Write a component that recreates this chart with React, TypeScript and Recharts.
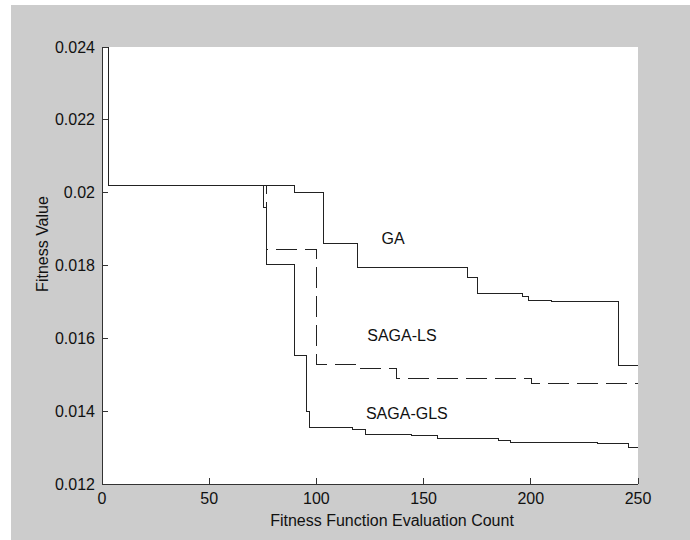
import { LineChart, Line, XAxis, YAxis, CartesianGrid, ReferenceDot, Label } from 'recharts';

// axis ticks
const X_TICKS = [0, 50, 100, 150, 200, 250];
const Y_TICKS = [0.012, 0.014, 0.016, 0.018, 0.02, 0.022, 0.024];

// GA (solid)
const GA_X = [0, 3, 90, 103.5, 119, 170.5, 175, 196, 199, 209.5, 241, 250];
const GA_Y = [0.024, 0.0202, 0.02, 0.01861, 0.01795, 0.01768, 0.01724, 0.01714, 0.01705, 0.01702, 0.01526, 0.01526];

// SAGA-LS (dashed)
const LS_X = [3, 76.5, 100, 119.5, 137.4, 200.5, 250];
const LS_Y = [0.0202, 0.01844, 0.01527, 0.01516, 0.0149, 0.01475, 0.01475];

// SAGA-GLS (solid)
const GLS_X = [3, 75.5, 76.5, 89.7, 95.5, 96.7, 117, 123, 144.4, 156.6, 184.8, 190.3, 231, 245.5, 250];
const GLS_Y = [0.0202, 0.0196, 0.01804, 0.01552, 0.014, 0.01356, 0.0135, 0.01337, 0.01333, 0.01326, 0.01319, 0.01315, 0.01312, 0.01301, 0.01301];

const toPoints = (xs: number[], ys: number[]) => xs.map((x, i) => ({ x, y: ys[i] }));

const gaData = toPoints(GA_X, GA_Y);
const lsData = toPoints(LS_X, LS_Y);
const glsData = toPoints(GLS_X, GLS_Y);

const FONT = '"Liberation Sans", Arial, sans-serif';
const INK = '#333';
const TXT = '#111';

function BottomTick({ x, y, payload }: any) {
  return (
    <g>
      <line x1={x} y1={y} x2={x} y2={y - 6} stroke={INK} shapeRendering="crispEdges" />
      <text x={x} y={y + 20} textAnchor="middle" fontSize={16} fontFamily={FONT} fill={TXT}>
        {payload.value}
      </text>
    </g>
  );
}

function TopTick({ x, y }: any) {
  return <line x1={x} y1={y} x2={x} y2={y + 6} stroke={INK} shapeRendering="crispEdges" />;
}

function LeftTick({ x, y, payload }: any) {
  return (
    <g>
      <line x1={x} y1={y} x2={x + 6} y2={y} stroke={INK} shapeRendering="crispEdges" />
      <text x={x - 7} y={y + 5.5} textAnchor="end" fontSize={16} fontFamily={FONT} fill={TXT}>
        {String(payload.value)}
      </text>
    </g>
  );
}

function RightTick({ x, y }: any) {
  return <line x1={x} y1={y} x2={x - 6} y2={y} stroke={INK} shapeRendering="crispEdges" />;
}

const note = (value: string) => ({
  value,
  position: 'right' as const,
  offset: 0,
  fontSize: 16,
  fontFamily: FONT,
  fill: TXT,
});

const axisLine = { stroke: INK, shapeRendering: 'crispEdges' };

export default function App() {
  return (
    <div style={{ position: 'absolute', left: 0, top: 0, width: 690, height: 540, background: '#fff' }}>
      <div style={{ position: 'absolute', left: 11, top: 5, right: 0, bottom: 0, background: '#cccccc' }} />
      <div style={{ position: 'absolute', left: 0, top: 0 }}>
        <LineChart width={690} height={540} margin={{ top: 47, right: 52, bottom: 0, left: 0 }}>
          <CartesianGrid fill="#fff" horizontal={false} vertical={false} stroke="none" />
          <XAxis
            dataKey="x"
            type="number"
            domain={[0, 250]}
            ticks={X_TICKS}
            allowDataOverflow
            height={56}
            tickSize={0}
            tickMargin={0}
            tickLine={false}
            tick={<BottomTick />}
            axisLine={axisLine}
          >
            <Label
              content={() => (
                <text x={392} y={526} textAnchor="middle" fontSize={16} fontFamily={FONT} fill={TXT}>
                  Fitness Function Evaluation Count
                </text>
              )}
            />
          </XAxis>
          <XAxis
            xAxisId="top"
            orientation="top"
            dataKey="x"
            type="number"
            domain={[0, 250]}
            ticks={X_TICKS}
            allowDataOverflow
            height={0}
            tickSize={0}
            tickMargin={0}
            tickLine={false}
            tick={<TopTick />}
            axisLine={axisLine}
          />
          <YAxis
            type="number"
            domain={[0.012, 0.024]}
            ticks={Y_TICKS}
            allowDataOverflow
            width={102}
            tickSize={0}
            tickMargin={0}
            tickLine={false}
            tick={<LeftTick />}
            axisLine={axisLine}
          >
            <Label
              content={() => (
                <text
                  x={48}
                  y={244}
                  transform="rotate(-90 48 244)"
                  textAnchor="middle"
                  fontSize={16}
                  fontFamily={FONT}
                  fill={TXT}
                >
                  Fitness Value
                </text>
              )}
            />
          </YAxis>
          <YAxis
            yAxisId="right"
            orientation="right"
            type="number"
            domain={[0.012, 0.024]}
            ticks={Y_TICKS}
            allowDataOverflow
            width={0}
            tickSize={0}
            tickMargin={0}
            tickLine={false}
            tick={<RightTick />}
            axisLine={axisLine}
          />
          <Line data={gaData} dataKey="y" type="stepAfter" stroke="#222" strokeWidth={1} shapeRendering="crispEdges" dot={false} isAnimationActive={false} />
          <Line data={lsData} dataKey="y" type="stepAfter" stroke="#222" strokeWidth={1} strokeDasharray="21 8" shapeRendering="crispEdges" dot={false} isAnimationActive={false} />
          <Line data={glsData} dataKey="y" type="stepAfter" stroke="#222" strokeWidth={1} shapeRendering="crispEdges" dot={false} isAnimationActive={false} />
          <ReferenceDot x={130.4} y={0.01876} r={0} fill="none" stroke="none" label={note('GA')} />
          <ReferenceDot x={123.7} y={0.01607} r={0} fill="none" stroke="none" label={note('SAGA-LS')} />
          <ReferenceDot x={123.1} y={0.01394} r={0} fill="none" stroke="none" label={note('SAGA-GLS')} />
        </LineChart>
      </div>
    </div>
  );
}
